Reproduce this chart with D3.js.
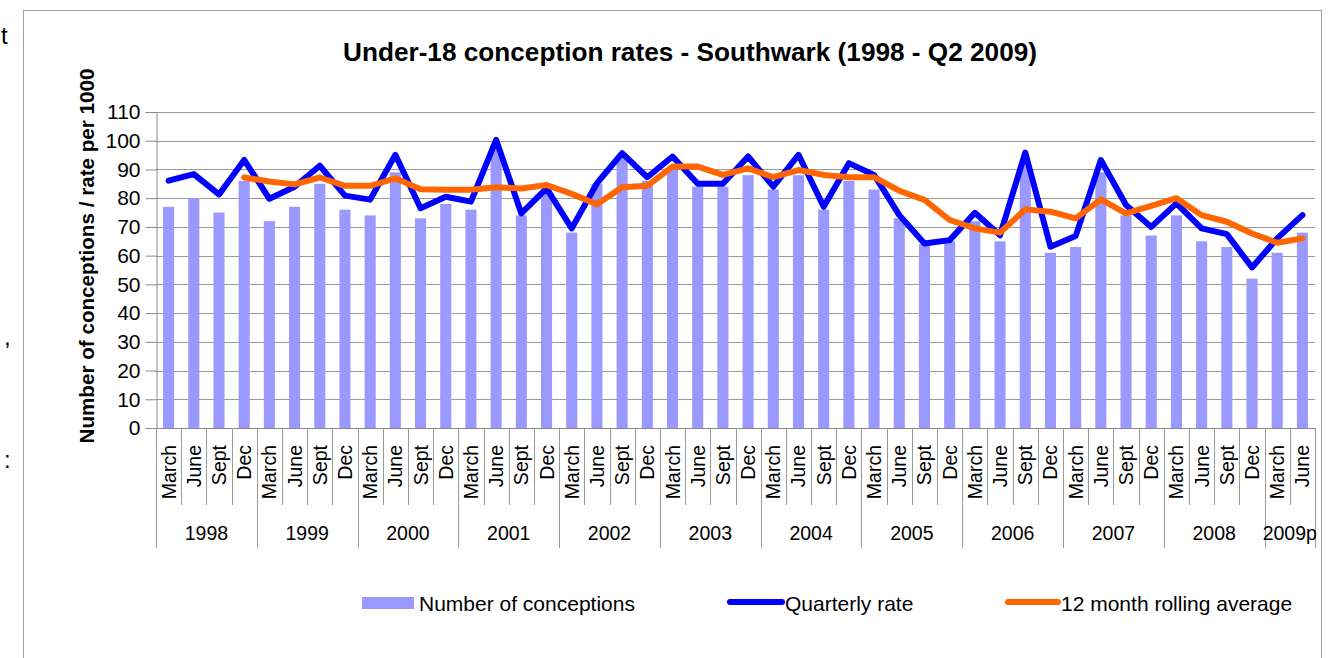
<!DOCTYPE html>
<html>
<head>
<meta charset="utf-8">
<script src="https://cdn.jsdelivr.net/npm/d3@7"></script>
<style>
  body { margin: 0; background: #fff; }
  svg { display: block; font-family: "Liberation Sans", Arial, sans-serif; }
</style>
</head>
<body>
<svg id="chart" width="1328" height="658"></svg>
<script>
// data
const quarterNames = ['March', 'June', 'Sept', 'Dec'];
const years = ['1998', '1999', '2000', '2001', '2002', '2003', '2004', '2005', '2006', '2007', '2008', '2009p'];
const quarterCounts = [4, 4, 4, 4, 4, 4, 4, 4, 4, 4, 4, 2];
const yTicks = [0, 10, 20, 30, 40, 50, 60, 70, 80, 90, 100, 110];

const conceptions = [77, 80, 75, 86, 72, 77, 85, 76, 74, 89, 73, 78, 76, 98, 74, 83,
  68, 85, 94, 86, 90, 84, 84, 88, 83, 88, 76, 86, 83, 73, 64, 65,
  72, 65, 92, 61, 63, 89, 74, 67, 74, 65, 63, 52, 61, 68];
const quarterlyRate = [86.1, 88.4, 81.3, 93.3, 79.8, 84, 91.3, 80.9, 79.5, 95.1, 76.5, 80.5, 78.8, 100.3, 74.7, 83.4,
  69.5, 85.2, 95.7, 87.3, 94.5, 85, 85, 94.5, 84, 95.1, 77, 92.2, 88.1, 74.1, 64.2, 65.4,
  74.9, 67.1, 95.9, 63.1, 66.8, 93.3, 77.6, 70, 78.2, 69.5, 67.5, 55.9, 66, 74.1];
const rollingAverage = [null, null, null, 87.2, 85.8, 84.8, 87.2, 84.3, 84.3, 86.9, 83.1, 82.9, 82.9, 83.8, 83.4, 84.6,
  81.5, 77.9, 83.8, 84.3, 91, 91, 88.1, 90.4, 87.3, 89.8, 88.1, 87.3, 87.3, 82.6, 79.4, 72.4,
  69.5, 68, 76.1, 75.3, 73, 79.6, 74.7, 77.3, 80, 74.1, 71.8, 67.7, 64.5, 66];

// build the category list (one entry per quarter)
const categories = [];
years.forEach((yr, yi) => {
  for (let q = 0; q < quarterCounts[yi]; q++) {
    categories.push({ key: yr + '-' + q, year: yr, quarter: quarterNames[q] });
  }
});

const svg = d3.select('#chart');
const plotLeft = 156, plotRight = 1315, plotTop = 112, plotBottom = 428;

const x = d3.scaleBand().domain(categories.map(c => c.key)).range([plotLeft, plotRight]).padding(0);
const y = d3.scaleLinear().domain([0, 110]).range([plotBottom, plotTop]);
const cx = i => x(categories[i].key) + x.bandwidth() / 2;

// outer frame
svg.append('rect')
  .attr('x', 23.5).attr('y', 10.5).attr('width', 1298).attr('height', 660)
  .attr('fill', 'none').attr('stroke', '#a0a0a0').attr('stroke-width', 1);

// stray characters from surrounding page
[['t', 1, 44], [',', 4, 345], [':', 4, 468]].forEach(([t, tx, ty]) => {
  svg.append('text').attr('x', tx).attr('y', ty).attr('font-size', 24).attr('fill', '#000').text(t);
});

// title
svg.append('text')
  .attr('x', 690).attr('y', 61)
  .attr('text-anchor', 'middle')
  .attr('font-size', 26).attr('font-weight', 'bold')
  .attr('textLength', 694).attr('lengthAdjust', 'spacingAndGlyphs')
  .text('Under-18 conception rates - Southwark (1998 - Q2 2009)');

// gridlines
svg.append('g').selectAll('line')
  .data(yTicks.filter(d => d > 0))
  .join('line')
  .attr('x1', plotLeft).attr('x2', plotRight)
  .attr('y1', d => Math.round(y(d)) + 0.5).attr('y2', d => Math.round(y(d)) + 0.5)
  .attr('stroke', '#999').attr('stroke-width', 1);

// y axis
const yAxis = svg.append('g')
  .attr('transform', `translate(${plotLeft + 0.5},0)`)
  .call(d3.axisLeft(y).tickValues(yTicks).tickSize(11).tickPadding(5));
yAxis.select('.domain').attr('stroke', '#888');
yAxis.selectAll('.tick line').attr('stroke', '#888');
yAxis.selectAll('.tick text')
  .attr('font-size', 21).attr('font-family', '"Liberation Sans", Arial, sans-serif').attr('fill', '#000');

svg.append('text')
  .attr('transform', `translate(94,256) rotate(-90)`)
  .attr('text-anchor', 'middle')
  .attr('font-size', 20.5).attr('font-weight', 'bold')
  .attr('textLength', 375).attr('lengthAdjust', 'spacingAndGlyphs')
  .text('Number of conceptions / rate per 1000');

// bars
const barW = x.bandwidth() * 0.44;
svg.append('g').selectAll('rect')
  .data(conceptions)
  .join('rect')
  .attr('x', (d, i) => cx(i) - barW / 2)
  .attr('y', d => y(d))
  .attr('width', barW)
  .attr('height', d => y(0) - y(d))
  .attr('fill', '#9999FF');

// x axis line + category boundaries
const xg = svg.append('g');
xg.append('line')
  .attr('x1', plotLeft).attr('x2', plotRight + 0.5)
  .attr('y1', plotBottom + 0.5).attr('y2', plotBottom + 0.5)
  .attr('stroke', '#888');

const boundaries = d3.range(categories.length + 1);
const yearStarts = [0];
quarterCounts.forEach((n, i) => yearStarts.push(yearStarts[i] + n));
const bx = i => Math.round(i < categories.length ? x(categories[i].key) : plotRight) + 0.5;
xg.selectAll('line.sep')
  .data(boundaries)
  .join('line')
  .attr('class', 'sep')
  .attr('x1', bx).attr('x2', bx)
  .attr('y1', plotBottom)
  .attr('y2', i => yearStarts.includes(i) ? 548 : 505)
  .attr('stroke', '#999');

xg.selectAll('text.q')
  .data(categories)
  .join('text')
  .attr('class', 'q')
  .attr('transform', (d, i) => `translate(${cx(i) + 7},445) rotate(-90)`)
  .attr('text-anchor', 'end')
  .attr('font-size', 19.5)
  .text(d => d.quarter);

xg.selectAll('text.yr')
  .data(years)
  .join('text')
  .attr('class', 'yr')
  .attr('x', (d, i) => {
    const a = x(categories[yearStarts[i]].key);
    const b = yearStarts[i + 1] < categories.length ? x(categories[yearStarts[i + 1]].key) : plotRight;
    return (a + b) / 2;
  })
  .attr('y', 540)
  .attr('text-anchor', 'middle')
  .attr('font-size', 19.5)
  .text(d => d);

// lines
const line = d3.line()
  .defined(d => d != null)
  .x((d, i) => cx(i))
  .y(d => y(d));

svg.append('path')
  .datum(quarterlyRate)
  .attr('d', line)
  .attr('fill', 'none').attr('stroke', '#0000FF').attr('stroke-width', 6)
  .attr('stroke-linejoin', 'round').attr('stroke-linecap', 'round');

svg.append('path')
  .datum(rollingAverage)
  .attr('d', line)
  .attr('fill', 'none').attr('stroke', '#FF6600').attr('stroke-width', 6)
  .attr('stroke-linejoin', 'round').attr('stroke-linecap', 'round');

// legend
const lg = svg.append('g').attr('font-size', 21);
lg.append('rect').attr('x', 362).attr('y', 597).attr('width', 52).attr('height', 12).attr('fill', '#9999FF');
lg.append('text').attr('x', 419).attr('y', 611).text('Number of conceptions');
lg.append('line').attr('x1', 730).attr('x2', 782).attr('y1', 602).attr('y2', 602)
  .attr('stroke', '#0000FF').attr('stroke-width', 6).attr('stroke-linecap', 'round');
lg.append('text').attr('x', 785).attr('y', 611).text('Quarterly rate');
lg.append('line').attr('x1', 1008).attr('x2', 1058).attr('y1', 602).attr('y2', 602)
  .attr('stroke', '#FF6600').attr('stroke-width', 6).attr('stroke-linecap', 'round');
lg.append('text').attr('x', 1061).attr('y', 611).text('12 month rolling average');
</script>
</body>
</html>
